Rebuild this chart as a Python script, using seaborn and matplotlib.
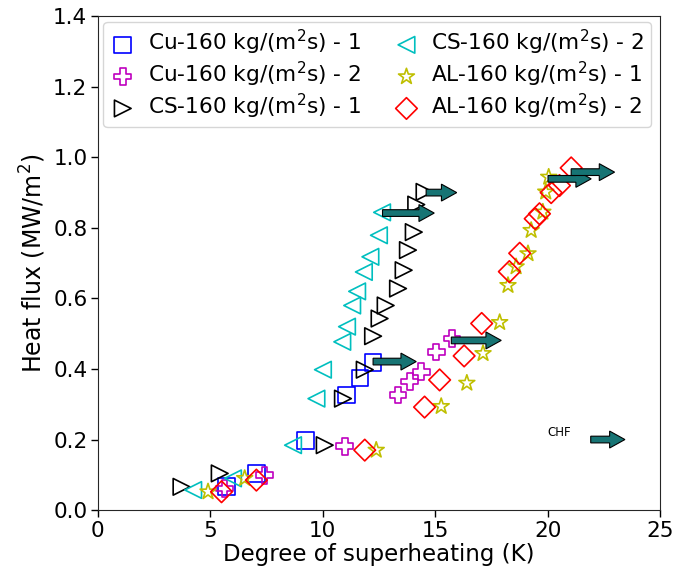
import matplotlib
matplotlib.use("Agg")
import matplotlib.pyplot as plt
import seaborn as sns
import numpy as np
import pandas as pd

# ---- data ----
cu1_x = [5.72, 7.05, 9.22, 11.05, 11.66, 12.24]
cu1_y = [0.066, 0.104, 0.198, 0.326, 0.374, 0.419]

cu2_x = [5.64, 7.42, 10.98, 13.35, 13.87, 14.38, 15.05, 15.75]
cu2_y = [0.061, 0.099, 0.181, 0.326, 0.364, 0.392, 0.448, 0.487]

cs1_x = [3.72, 5.42, 10.09, 10.9, 11.87, 12.24, 12.53, 12.8, 13.35, 13.6, 13.79, 14.05, 14.16, 14.53]
cs1_y = [0.066, 0.104, 0.184, 0.316, 0.398, 0.493, 0.543, 0.58, 0.628, 0.68, 0.737, 0.788, 0.866, 0.902]

cs2_x = [4.24, 6.01, 8.68, 9.72, 10.01, 10.87, 11.08, 11.31, 11.53, 11.83, 12.12, 12.5, 12.64]
cs2_y = [0.057, 0.09, 0.184, 0.316, 0.398, 0.477, 0.52, 0.58, 0.62, 0.675, 0.718, 0.779, 0.844]

al1_x = [4.9, 6.53, 12.38, 15.27, 16.41, 17.13, 17.87, 18.24, 18.6, 19.13, 19.27, 19.79, 19.92, 20.05]
al1_y = [0.052, 0.09, 0.17, 0.294, 0.36, 0.444, 0.532, 0.637, 0.69, 0.727, 0.793, 0.845, 0.902, 0.944]

al2_x = [5.5, 7.05, 11.87, 14.53, 15.2, 16.29, 17.07, 18.3, 18.76, 19.45, 19.64, 20.16, 20.53, 21.05]
al2_y = [0.052, 0.085, 0.17, 0.292, 0.369, 0.437, 0.529, 0.676, 0.728, 0.826, 0.84, 0.9, 0.92, 0.97]

labels = ["Cu-160 kg/(m$^2$s) - 1", "Cu-160 kg/(m$^2$s) - 2", "CS-160 kg/(m$^2$s) - 1",
          "CS-160 kg/(m$^2$s) - 2", "AL-160 kg/(m$^2$s) - 1", "AL-160 kg/(m$^2$s) - 2"]

# CHF arrows: start x, y, end x
arrow_x0 = [12.24, 12.66, 14.6, 15.72, 20.02, 21.05]
arrow_y = [0.421, 0.842, 0.9, 0.481, 0.939, 0.958]
arrow_x1 = [14.16, 14.96, 15.96, 17.94, 21.94, 22.98]

chf_x0, chf_y, chf_x1 = 21.92, 0.2, 23.44

# ---- plot ----
sns.set_style("ticks")
plt.rcParams["font.family"] = ["DejaVu Sans"]
for k in ["text.color", "axes.labelcolor", "xtick.color", "ytick.color"]:
    plt.rcParams[k] = "black"

fig = plt.figure(figsize=(6.94, 5.79), dpi=100)
ax = fig.add_axes([0.141, 0.119, 0.81, 0.853])

series = [
    (cu1_x, cu1_y, "s", "#0000ff", 12),
    (cu2_x, cu2_y, "P", "#bf00bf", 12),
    (cs1_x, cs1_y, ">", "#000000", 12),
    (cs2_x, cs2_y, "<", "#00bfbf", 12),
    (al1_x, al1_y, "*", "#bfbf00", 12),
    (al2_x, al2_y, "D", "#ff0000", 11),
]

for (xs, ys, m, c, ms), lab in zip(series, labels):
    df = pd.DataFrame({"x": xs, "y": ys})
    sns.scatterplot(data=df, x="x", y="y", marker=m, s=ms ** 2, color=c,
                    facecolor="none", edgecolor=c, linewidth=1.2, label=lab,
                    ax=ax, zorder=3)

arrow_color = "#177474"
for x0, y, x1 in zip(arrow_x0, arrow_y, arrow_x1):
    ax.arrow(x0, y, x1 - x0, 0, width=0.019, head_width=0.048, head_length=0.68,
             length_includes_head=True, facecolor=arrow_color, edgecolor="black",
             linewidth=0.8, zorder=4)

ax.arrow(chf_x0, chf_y, chf_x1 - chf_x0, 0, width=0.019, head_width=0.048, head_length=0.68,
         length_includes_head=True, facecolor=arrow_color, edgecolor="black",
         linewidth=0.8, zorder=4)
ax.text(20.0, 0.21, "CHF", fontsize=8.5, ha="left", va="baseline")

ax.set_xlim(0, 25)
ax.set_ylim(0, 1.4)
ax.set_xticks([0, 5, 10, 15, 20, 25])
ax.set_yticks([0.0, 0.2, 0.4, 0.6, 0.8, 1.0, 1.2, 1.4])
ax.set_yticklabels(["0.0", "0.2", "0.4", "0.6", "0.8", "1.0", "1.2", "1.4"])
ax.tick_params(labelsize=15.5, length=5, width=1, pad=2.5)
ax.set_xlabel("Degree of superheating (K)", fontsize=16.5, labelpad=2)
ax.set_ylabel("Heat flux (MW/m$^2$)", fontsize=17)

ax.legend(loc="upper left", ncol=2, fontsize=15.6, frameon=True,
          handletextpad=0.55, columnspacing=1.5, borderpad=0.3, labelspacing=0.12,
          handlelength=1.2, borderaxespad=0.25)

fig.savefig("out.png", dpi=100)
